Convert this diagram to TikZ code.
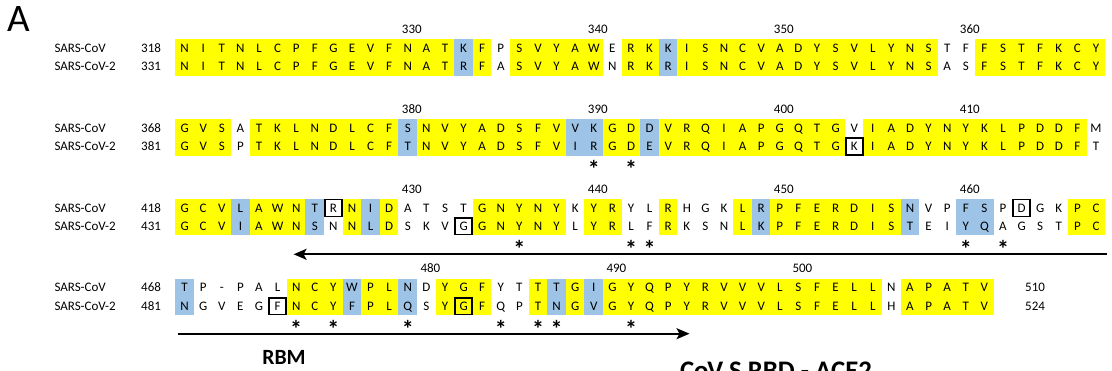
\documentclass[tikz,border=0pt]{standalone}
\usepackage{fontspec}
\setmainfont{Carlito}
\usetikzlibrary{arrows.meta}
\definecolor{cy}{HTML}{FFFF00}
\definecolor{cb}{HTML}{9DC3E6}
\definecolor{cw}{HTML}{FFFFFF}
\tikzset{
  res/.style={inner sep=0pt, anchor=base, font=\fontsize{13}{15}\selectfont},
  lab/.style={inner sep=0pt, anchor=base west, font=\fontsize{13}{15}\selectfont},
  ast/.style={inner sep=0pt, anchor=base, font=\fontsize{24}{26}\selectfont\bfseries},
  cellbox/.style={draw=black, line width=1.6pt},
  arr/.style={line width=1.8pt, -{Stealth[length=13pt, width=11pt, inset=3pt]}},
}
% #1 id, #2 y of first row, #3 colours, #4 first row, #5 second row
\newcommand{\seqblock}[5]{%
  \foreach \c [count=\i] in {#3} {
    \pgfmathsetmacro{\xx}{184.6+(\i-1)*18.6}
    \fill[c\c] (\xx-9.4, #2-9.15) rectangle (\xx+9.4, #2+18.3+9.15);
  }
  \foreach \l [count=\i] in {#4} {
    \pgfmathsetmacro{\xx}{184.6+(\i-1)*18.6}
    \node[res] (#1a\i) at (\xx, #2+4.2) {\l};
  }
  \foreach \l [count=\i] in {#5} {
    \pgfmathsetmacro{\xx}{184.6+(\i-1)*18.6}
    \node[res] (#1b\i) at (\xx, #2+18.3+4.2) {\l};
  }
}
% #1 id, #2 y of first row, #3 list col/number
\newcommand{\seqnums}[3]{%
  \foreach \k/\t in {#3} {
    \pgfmathsetmacro{\xx}{184.6+(\k-1)*18.6+4}
    \node[res] (#1n\t) at (\xx, #2-19+4.2) {\t};
  }
}
% #1 id, #2 y of first row, #3 list of cols
\newcommand{\seqstars}[3]{%
  \foreach \k in {#3} {
    \pgfmathsetmacro{\xx}{184.6+(\k-1)*18.6}
    \node[ast] (#1s\k) at (\xx, #2+18.3+18+13.5) {*};
  }
}
% #1 col, #2 y of row centre
\newcommand{\boxcell}[2]{%
  \pgfmathsetmacro{\xx}{184.6+(#1-1)*18.6}
  \draw[cellbox] (\xx-9.3+0.8, #2-9.15+0.8) rectangle (\xx+9.3-0.8, #2+9.15-0.8);
}
% #1 id, #2 y, #3 name1, #4 num1, #5 name2, #6 num2
\newcommand{\seqnames}[6]{%
  \node[lab] (#1na) at (54.3, #2+4.2) {#3};
  \node[lab] (#1ma) at (141, #2+4.2) {#4};
  \node[lab] (#1nb) at (54.3, #2+18.3+4.2) {#5};
  \node[lab] (#1mb) at (141, #2+18.3+4.2) {#6};
}
\begin{document}
\begin{tikzpicture}[x=1pt,y=-1pt]
\useasboundingbox (0,0) rectangle (1112,371);
\clip (0,0) rectangle (1112,371);
\fill[white] (0,0) rectangle (1112,371);

\node[inner sep=0pt, anchor=base, font=\fontsize{39}{40}\selectfont] (panel) at (18.4,31.7) {A};

% block 1
\seqblock{p}{48.4}{y,y,y,y,y,y,y,y,y,y,y,y,y,y,y,b,y,w,y,y,y,y,y,w,y,y,b,y,y,y,y,y,y,y,y,y,y,y,y,y,y,w,w,y,y,y,y,y,y,y}
{N,I,T,N,L,C,P,F,G,E,V,F,N,A,T,K,F,P,S,V,Y,A,W,E,R,K,K,I,S,N,C,V,A,D,Y,S,V,L,Y,N,S,T,F,F,S,T,F,K,C,Y}
{N,I,T,N,L,C,P,F,G,E,V,F,N,A,T,R,F,A,S,V,Y,A,W,N,R,K,R,I,S,N,C,V,A,D,Y,S,V,L,Y,N,S,A,S,F,S,T,F,K,C,Y}
\seqnums{p}{48.4}{13/330,23/340,33/350,43/360}
\seqnames{p}{48.4}{SARS-CoV}{318}{SARS-CoV-2}{331}

% block 2
\seqblock{q}{128.2}{y,y,y,w,y,y,y,y,y,y,y,y,b,y,y,y,y,y,y,y,y,b,b,y,y,b,y,y,y,y,y,y,y,y,y,y,w,y,y,y,y,y,y,y,y,y,y,y,y,w}
{G,V,S,A,T,K,L,N,D,L,C,F,S,N,V,Y,A,D,S,F,V,V,K,G,D,D,V,R,Q,I,A,P,G,Q,T,G,V,I,A,D,Y,N,Y,K,L,P,D,D,F,M}
{G,V,S,P,T,K,L,N,D,L,C,F,T,N,V,Y,A,D,S,F,V,I,R,G,D,E,V,R,Q,I,A,P,G,Q,T,G,K,I,A,D,Y,N,Y,K,L,P,D,D,F,T}
\seqnums{q}{128.2}{13/380,23/390,33/400,43/410}
\seqnames{q}{128.2}{SARS-CoV}{368}{SARS-CoV-2}{381}
\boxcell{37}{146.5}
\seqstars{q}{128.2}{23,25}

% block 3
\seqblock{r}{208.0}{y,y,y,b,y,y,y,b,w,y,b,y,w,w,w,w,y,y,y,y,y,w,y,y,w,w,y,w,w,w,y,b,y,y,y,y,y,y,y,b,w,w,b,b,w,w,w,w,y,y}
{G,C,V,L,A,W,N,T,R,N,I,D,A,T,S,T,G,N,Y,N,Y,K,Y,R,Y,L,R,H,G,K,L,R,P,F,E,R,D,I,S,N,V,P,F,S,P,D,G,K,P,C}
{G,C,V,I,A,W,N,S,N,N,L,D,S,K,V,G,G,N,Y,N,Y,L,Y,R,L,F,R,K,S,N,L,K,P,F,E,R,D,I,S,T,E,I,Y,Q,A,G,S,T,P,C}
\seqnums{r}{208.0}{13/430,23/440,33/450,43/460}
\seqnames{r}{208.0}{SARS-CoV}{418}{SARS-CoV-2}{431}
\boxcell{9}{208.0}
\boxcell{16}{226.3}
\boxcell{46}{208.0}
\seqstars{r}{208.0}{19,25,26,43,45}
\coordinate (ar3s) at (1107,254.3);
\coordinate (ar3e) at (293.6,254.3);
\draw[arr] (ar3s) -- (ar3e);

% block 4
\seqblock{s}{287.8}{b,w,w,w,w,w,y,y,y,b,y,y,b,w,y,y,y,w,w,y,b,y,b,y,y,y,y,y,y,y,y,y,y,y,y,y,y,y,w,y,y,y,y,y}
{T,P,-,P,A,L,N,C,Y,W,P,L,N,D,Y,G,F,Y,T,T,T,G,I,G,Y,Q,P,Y,R,V,V,V,L,S,F,E,L,L,N,A,P,A,T,V}
{N,G,V,E,G,F,N,C,Y,F,P,L,Q,S,Y,G,F,Q,P,T,N,G,V,G,Y,Q,P,Y,R,V,V,V,L,S,F,E,L,L,H,A,P,A,T,V}
\seqnums{s}{287.8}{14/480,24/490,34/500}
\seqnames{s}{287.8}{SARS-CoV}{468}{SARS-CoV-2}{481}
\node[lab] (send1) at (1025, 287.8+4.2) {510};
\node[lab] (send2) at (1025, 306.1+4.2) {524};
\boxcell{6}{306.1}
\boxcell{16}{306.1}
\seqstars{s}{287.8}{7,9,13,18,20,21,25}
\coordinate (ar4s) at (177.9,333.7);
\coordinate (ar4e) at (689.5,333.7);
\draw[arr] (ar4s) -- (ar4e);

\node[inner sep=0pt, anchor=base, font=\fontsize{21.7}{24}\selectfont\bfseries] (rbm) at (284,364.3) {RBM};
\node[inner sep=0pt, anchor=base, font=\fontsize{26.8}{28}\selectfont\bfseries] (cap) at (776,380) {CoV S RBD - ACE2};
\end{tikzpicture}
\end{document}
